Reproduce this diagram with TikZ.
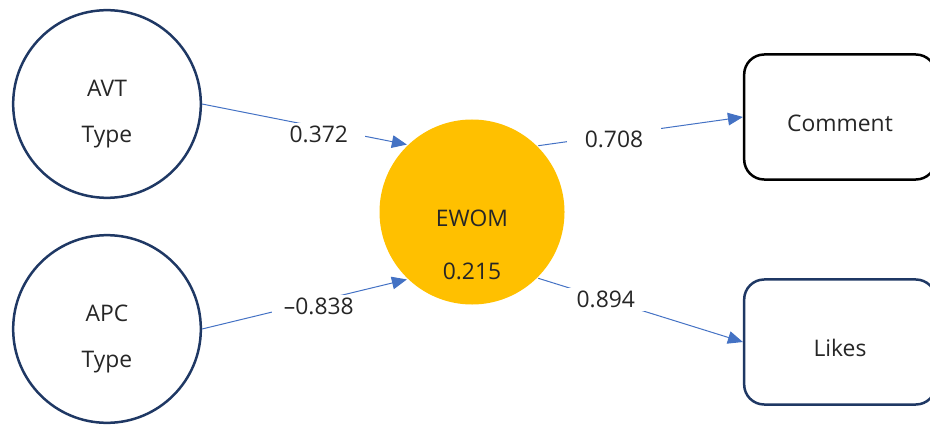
\documentclass[tikz,border=0pt]{standalone}
\usepackage{fontspec}
\setmainfont{Open Sans}
\usetikzlibrary{arrows.meta}
\definecolor{navy}{HTML}{1F3864}
\definecolor{gold}{HTML}{FFC000}
\definecolor{link}{HTML}{4472C4}
\definecolor{ink}{HTML}{262626}
\tikzset{
	latent/.style={circle, draw=navy, line width=0.075cm, minimum size=5.63cm, inner sep=0pt},
	manifest/.style={rectangle, rounded corners=0.6cm, line width=0.075cm, minimum width=5.75cm, minimum height=3.75cm, text height=25pt, text depth=0pt, text=ink, font=\fontsize{19.5}{40}\selectfont},
	txt/.style={align=center, text=ink, inner sep=0pt},
	arr/.style={draw=link, line width=0.03cm, -{Triangle[length=0.45cm,width=0.38cm]}},
	lbl/.style={fill=white, minimum width=2.8cm, inner sep=0.1cm, text=ink, font=\fontsize{19.5}{24}\selectfont}
}

\begin{document}
\begin{tikzpicture}[x=0.03cm, y=-0.03cm]
		\useasboundingbox (0, 0) rectangle (930, 425);
		
		% constructs
		\node[latent] (avt) at (107, 104) {};
		\node[latent] (apc) at (107, 329) {};
		\node[latent, draw=none, fill=gold, minimum size=5.55cm] (ewom) at (472, 212) {};
		\node[txt, font=\fontsize{19.5}{40}\selectfont] (avttxt) at (107, 114) {AVT\\Type};
		\node[txt, font=\fontsize{19.5}{40}\selectfont] (apctxt) at (107, 339) {APC\\Type};
		\node[txt, font=\fontsize{19.5}{45}\selectfont] (ewomtxt) at (472, 245) {EWOM\\0.215};
		
		% indicators
		\node[manifest, draw=black] (comment) at (840, 117) {Comment};
		\node[manifest, draw=navy] (likes) at (840, 342) {Likes};
		
		% paths
		\draw[arr] (avt.east) -- node[lbl, pos=0.57, yshift=-0.22cm] {0.372} (ewom.134);
		\draw[arr] (apc.east) -- node[lbl, pos=0.57, yshift=-0.18cm] {--0.838} (ewom.226);
		\draw[arr] (ewom.45) -- node[lbl, pos=0.37, yshift=-0.12cm] {0.708} (comment.west);
		\draw[arr] (ewom.-45) -- node[lbl, pos=0.33] {0.894} (likes.west);
	\end{tikzpicture}
\end{document}
